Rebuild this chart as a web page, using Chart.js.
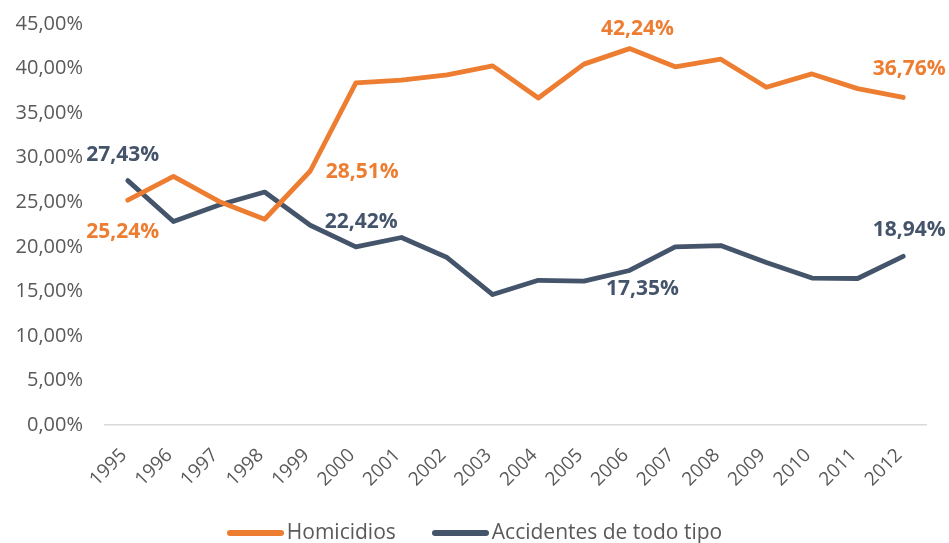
<!DOCTYPE html>
<html>
<head>
<meta charset="utf-8">
<script src="https://cdn.jsdelivr.net/npm/chart.js@4"></script>
<style>
  html, body { margin: 0; padding: 0; background: #fff; }
  #wrap { position: relative; width: 949px; height: 543px; }
  #legend { position: absolute; left: 0; top: 519px; width: 949px; height: 24px;
    display: flex; justify-content: center; align-items: center;
    font-family: 'Open Sans', sans-serif; font-size: 21px; color: #595959; }
  .item { display: flex; align-items: center; margin: 0 18px; }
  .mark { width: 57px; height: 6px; border-radius: 3px; margin-right: 3px; margin-top: 3px; }
</style>
</head>
<body>
<div id="wrap"><canvas id="chart"></canvas><div id="legend"></div></div>
<script>
const years = ["1995", "1996", "1997", "1998", "1999", "2000", "2001", "2002", "2003",
  "2004", "2005", "2006", "2007", "2008", "2009", "2010", "2011", "2012"];
const homicidios = [25.24, 27.9, 25.1, 23.1, 28.51, 38.4, 38.7, 39.3, 40.3,
  36.7, 40.5, 42.24, 40.2, 41.05, 37.9, 39.4, 37.75, 36.76];
const accidentes = [27.43, 22.85, 24.7, 26.15, 22.42, 20.0, 21.05, 18.8, 14.65,
  16.25, 16.15, 17.35, 20.0, 20.15, 18.25, 16.5, 16.45, 18.94];
const yTicks = [0, 5, 10, 15, 20, 25, 30, 35, 40, 45];

const ORANGE = "#ED7D31";
const NAVY = "#44546A";
const FONT = "'Open Sans', sans-serif";

// which points carry a value label, and where it sits relative to the point
const labelSpots = [
  { ds: 1, i: 0, dx: -5, dy: -26 },
  { ds: 0, i: 0, dx: -5, dy: 32 },
  { ds: 0, i: 4, dx: 52, dy: 1 },
  { ds: 1, i: 4, dx: 51, dy: -3 },
  { ds: 0, i: 11, dx: 8, dy: -20 },
  { ds: 1, i: 11, dx: 13, dy: 19 },
  { ds: 0, i: 17, dx: 6, dy: -28 },
  { ds: 1, i: 17, dx: 6, dy: -26 },
];

const pct = (v) => v.toFixed(2).replace(".", ",") + "%";

const valueLabels = {
  id: "valueLabels",
  afterDatasetsDraw(chart) {
    const ctx = chart.ctx;
    ctx.save();
    ctx.font = "bold 21px " + FONT;
    ctx.textAlign = "center";
    ctx.textBaseline = "middle";
    labelSpots.forEach((s) => {
      const ds = chart.data.datasets[s.ds];
      const pt = chart.getDatasetMeta(s.ds).data[s.i];
      const txt = pct(ds.data[s.i]);
      const w = ctx.measureText(txt).width;
      let x = pt.x + s.dx;
      x = Math.min(x, chart.width - w / 2 - 3);
      ctx.fillStyle = ds.borderColor;
      ctx.fillText(txt, x, pt.y + s.dy);
    });
    ctx.restore();
  },
};

const chart = new Chart(document.getElementById("chart"), {
  type: "line",
  data: {
    labels: years,
    datasets: [
      { label: "Homicidios", data: homicidios, borderColor: ORANGE, backgroundColor: ORANGE,
        borderWidth: 4.8, pointRadius: 0, tension: 0, borderCapStyle: "round", borderJoinStyle: "round" },
      { label: "Accidentes de todo tipo", data: accidentes, borderColor: NAVY, backgroundColor: NAVY,
        borderWidth: 4.8, pointRadius: 0, tension: 0, borderCapStyle: "round", borderJoinStyle: "round" },
    ],
  },
  options: {
    responsive: true, maintainAspectRatio: false, animation: false,
    layout: { padding: { top: 24, right: 23, left: 0, bottom: 33 } },
    scales: {
      x: {
        offset: true,
        afterFit: (axis) => { axis.paddingLeft = 0; axis.paddingRight = 0; },
        grid: { display: false, drawTicks: false },
        border: { display: true, color: "#D9D9D9", width: 1.5 },
        ticks: { color: "#595959", font: { family: FONT, size: 19 }, minRotation: 45, maxRotation: 45,
          padding: 19, labelOffset: -4 },
      },
      y: {
        min: 0, max: 45,
        afterBuildTicks: (axis) => { axis.ticks = yTicks.map((v) => ({ value: v })); },
        afterFit: (axis) => { axis.paddingTop = 0; axis.width = 105; },
        grid: { display: false, drawTicks: false },
        border: { display: false },
        ticks: { color: "#595959", font: { family: FONT, size: 20 }, padding: 22, callback: (v) => pct(v) },
      },
    },
    plugins: {
      legend: { display: false },
      tooltip: { enabled: false },
    },
  },
  plugins: [valueLabels],
});

const legend = document.getElementById("legend");
chart.data.datasets.forEach((ds) => {
  const item = document.createElement("div");
  item.className = "item";
  const mark = document.createElement("span");
  mark.className = "mark";
  mark.style.background = ds.borderColor;
  item.appendChild(mark);
  item.appendChild(document.createTextNode(ds.label));
  legend.appendChild(item);
});
</script>
</body>
</html>
